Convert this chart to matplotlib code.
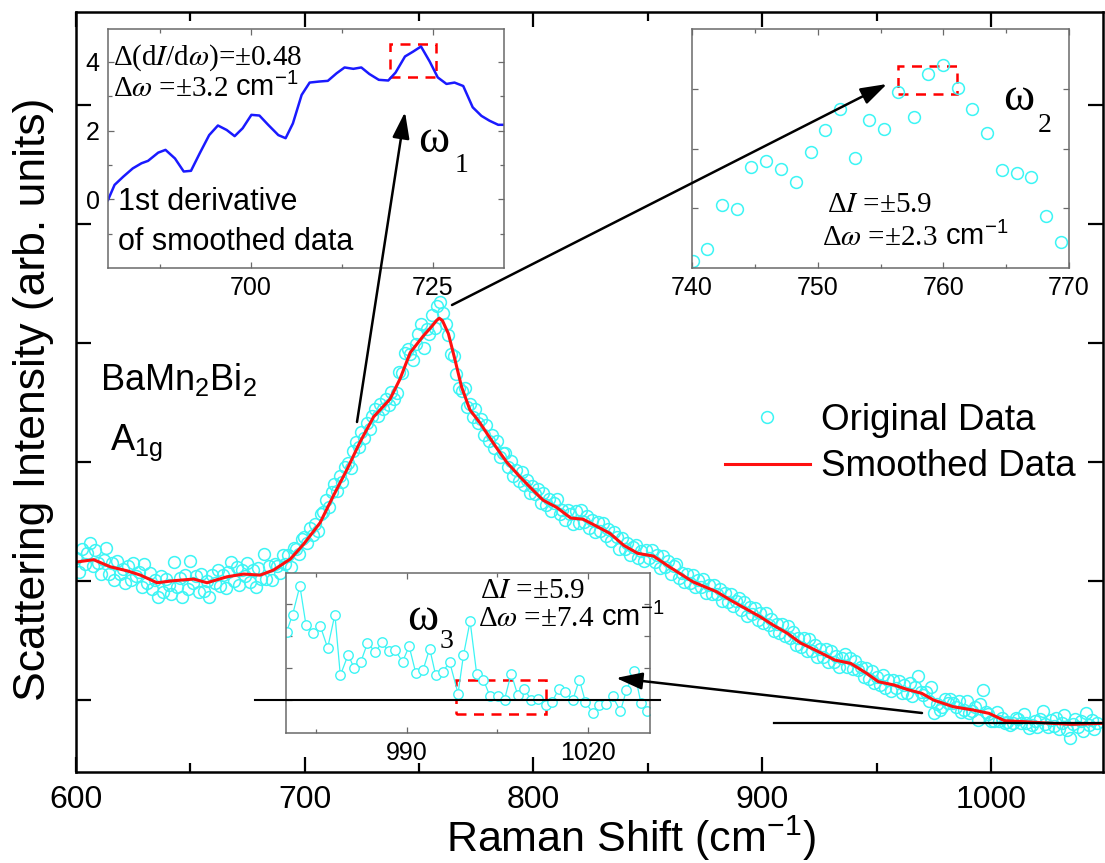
import numpy as np
import matplotlib.pyplot as plt
from matplotlib.patches import Rectangle, FancyArrowPatch
from matplotlib.lines import Line2D
from matplotlib.ticker import MultipleLocator, FixedLocator

plt.rcParams['font.family'] = ['Liberation Sans', 'DejaVu Sans']
plt.rcParams['mathtext.fontset'] = 'custom'
plt.rcParams['mathtext.rm'] = 'Liberation Sans'
plt.rcParams['mathtext.it'] = 'Liberation Sans:italic'
plt.rcParams['mathtext.bf'] = 'Liberation Sans:bold'

# ---- main spectrum (original data) ----
intensity = [
    219, 208, 227, 214, 224, 232, 213, 226, 215, 206, 218, 228, 206, 215, 201, 217, 206, 210, 198, 213,
    201, 215, 204, 208, 195, 214, 198, 207, 193, 201, 187, 204, 191, 202, 197, 189, 216, 195, 203, 187,
    205, 193,
    217, 198, 204, 191, 206, 192, 200, 187, 205, 198, 209, 196, 205, 194, 208, 216, 200, 212, 197, 209,
    204, 215, 199, 209, 195, 211, 202, 223, 202, 213, 201, 214, 213, 207, 222, 214, 222, 212, 228, 227,
    223, 235,
    237, 232, 245, 239, 248, 242, 256, 258, 268, 262, 275, 282, 276, 288, 283, 296, 299, 295, 309, 317,
    313, 325, 320, 333, 328, 339, 345, 339, 349, 345, 353, 348, 359,
    353, 358, 376, 375, 392, 395, 391, 386, 399, 408, 416, 396, 412, 408, 424, 413, 431, 435, 425, 416,
    407, 391, 389, 374, 362,
    360, 362, 346, 349, 338, 345, 333, 336, 323, 331, 318, 323, 312, 318, 304, 308, 308, 296, 301, 288,
    293, 284, 292, 281, 285, 274, 280, 273, 277, 266, 274, 264, 269, 259, 266, 269, 256, 260, 251, 260,
    256, 248, 259, 249, 260, 250, 255, 245, 251, 241, 250, 242, 249, 238, 244, 234, 241, 237, 227, 236,
    227, 232, 222, 229, 230, 219, 225,
    217, 226, 219, 226, 216, 222, 211, 221, 212, 217, 206, 213, 214, 203, 207, 199, 206, 198, 205, 195,
    201, 195, 202, 190, 197, 189, 197, 189, 193, 183, 190, 182, 189, 179, 183, 186, 176, 182, 171, 178,
    172, 177, 167, 173, 165, 173, 163, 168, 158, 164,
    156, 164, 154, 162, 152, 157, 146, 152, 145, 152, 141, 151, 141, 146, 136, 143, 136, 143, 132, 141,
    132, 137, 128, 135, 139, 128, 135, 126, 133, 125, 128, 119, 127, 118, 124, 114, 119, 113, 121, 110,
    117, 108, 117, 110, 116, 106, 113, 106, 114, 103,
    110.6, 120.5, 107.1, 104.2, 106.5, 99.0, 110.6, 89.5, 96.7, 91.9, 94.2, 100.7, 97.6, 100.9, 97.9,
    94.2, 99.6, 90.3, 91.3, 98.8, 89.5, 90.7, 94.2, 83.2, 96.5, 108.3, 89.8, 88.0, 82.2, 82.2, 90.1,
    82.6, 84.9, 80.9, 81.4, 79.1, 80.3, 84.9, 83.7, 80.9, 88.0, 80.3, 76.4, 79.1, 82.2, 77.1, 84.3,
    90.9, 79.9, 77.1,
    83, 78, 85, 76, 81, 87, 75, 68, 80, 84, 77, 82, 74, 89, 79, 83, 76, 81,
]
shift = np.linspace(600.2, 1046.4, len(intensity))

# smoothed curve (red line)
smooth_shift = [600.2, 607.7, 615.0, 622.4, 628.2, 635.4, 642.7, 651.4, 657.3, 666.0, 673.3, 680.5,
                686.3, 693.7, 699.5, 706.7, 712.6, 718.4, 724.2, 730.1, 737.3, 741.6, 746.1, 751.8,
                755.5, 757.6, 758.8, 760.2, 762.8, 765.7, 768.6, 772.2, 776.6, 783.5, 788.3, 793.9,
                799.0, 804.2, 810.1, 816.3, 821.7, 826.7, 833.5, 839.5, 845.6, 852.5, 859.4, 869.7,
                880.1, 887.0, 893.9, 899.1, 904.8, 911.1, 916.7, 923.2, 931.8, 938.7, 945.7, 950.8,
                957.7, 963.2, 969.8, 974.9, 983.5, 992.2, 999.2, 1006.0, 1014.6, 1026.8, 1035.4, 1049.0]
smooth_int = [216, 218, 212, 208.6, 205, 198.6, 200.3, 201.7, 198.6, 203.6, 205.9, 205,
              209.2, 218.5, 231, 249, 272, 293.5, 317, 338, 353, 369.7, 392, 406,
              414, 419, 421, 419, 408, 386, 363, 344, 333, 313, 300, 288,
              278, 268, 262, 253, 252, 247, 240, 230, 223.3, 221, 212, 199.4,
              191, 183, 175.6, 170, 163, 156, 148, 142, 133.6, 130.8, 122.4, 115.4,
              112.6, 109, 105.6, 100, 94.4, 91.6, 88.8, 82.6, 81.8, 80.4, 79.6, 80.4]

# inset 1: first derivative of smoothed data
deriv_shift = [680.4, 681.3, 682.5, 683.8, 685.0, 685.9, 687.3, 688.3, 689.6, 690.8,
               691.8, 693.0, 694.3, 695.5, 696.7, 697.8, 698.9, 700.1, 701.2, 702.4,
               703.8, 704.8, 705.8, 707.0, 708.1, 709.4, 710.6, 711.8, 712.9, 714.1,
               715.2, 716.3, 717.6, 718.9, 719.9, 721.2, 722.3, 723.4, 724.6, 725.7,
               726.9, 728.0, 729.2, 730.5, 731.7, 732.8, 734.0, 734.7]
deriv_val = [-0.02, 0.42, 0.66, 0.90, 1.05, 1.12, 1.36, 1.44, 1.19, 0.81,
             0.83, 1.34, 1.87, 2.15, 2.02, 1.84, 2.07, 2.46, 2.44, 2.17,
             1.87, 1.78, 2.21, 3.04, 3.40, 3.43, 3.45, 3.67, 3.84, 3.80,
             3.84, 3.65, 3.48, 3.46, 3.69, 4.16, 4.30, 4.45, 4.01, 3.55,
             3.36, 3.40, 3.30, 2.68, 2.43, 2.29, 2.17, 2.17]

# inset 2: peak region
peak_shift = [740.1, 741.2, 742.4, 743.6, 744.7, 745.9, 747.1, 748.3, 749.5, 750.6, 751.8, 753.0, 754.1,
              755.3, 756.4, 757.7, 758.8, 760.0, 761.2, 762.3, 763.5, 764.7, 765.9, 767.0, 768.2, 769.4]
peak_int = [353.1, 357.8, 376.4, 374.7, 392.1, 394.8, 391.4, 386.1, 398.7, 407.7, 416.4, 395.9, 411.9,
            408.3, 423.8, 413.3, 431.2, 434.8, 425.4, 416.4, 406.6, 391.0, 389.6, 388.2, 371.9, 361.0]

# inset 3: tail region
tail_shift = [970.1, 971.1, 972.3, 973.3, 974.5, 975.7, 976.9, 978.1, 979.0, 980.3,
              981.3, 982.4, 983.5, 984.8, 985.9, 987.0, 988.1, 989.3, 990.4, 991.5,
              992.7, 993.8, 994.8, 996.0, 997.1, 998.5, 999.4, 1000.5, 1001.6, 1002.7,
              1003.8, 1005.1, 1006.2, 1007.3, 1008.4, 1009.5, 1010.6, 1011.8, 1013.0, 1014.1,
              1015.2, 1016.3, 1017.5, 1018.6, 1019.6, 1020.8, 1021.9, 1023.0, 1024.1, 1025.4,
              1026.4, 1027.7, 1028.8, 1029.8]
tail_int = [104.6, 110.6, 120.5, 107.1, 104.2, 106.5, 99.0, 110.6, 89.5, 96.7,
            91.9, 94.2, 100.7, 97.6, 100.9, 97.9, 98.2, 94.2, 99.6, 90.3,
            91.3, 98.8, 89.5, 90.7, 94.2, 83.2, 96.5, 108.3, 89.8, 88.0,
            82.2, 82.2, 81.1, 90.1, 82.6, 84.9, 80.9, 81.4, 79.1, 80.3,
            84.9, 83.7, 80.9, 88.0, 80.3, 76.4, 79.1, 79.4, 82.2, 77.1,
            84.3, 90.9, 79.9, 77.1]

W, H = 1105, 863
CYAN = '#3cf5f5'


def fx(px):
    return px / W


def fy(py):
    return 1 - py / H


def box(left, top, right, bottom):
    return [fx(left), fy(bottom), (right - left) / W, (bottom - top) / H]


def style_inset(a):
    for s in a.spines.values():
        s.set_color('#6a6a6a')
        s.set_linewidth(1.1)
    a.tick_params(which='both', direction='in', top=True, right=True, color='#6a6a6a',
                  labelsize=18, width=0.9, pad=6)
    a.tick_params(which='major', length=4.5)
    a.tick_params(which='minor', length=3)
    a.set_facecolor('white')


fig = plt.figure(figsize=(W / 100, H / 100), dpi=100)
renderer = fig.canvas.get_renderer()

# main axes
ax = fig.add_axes(box(76, 12, 1103, 772))
ax.plot(shift, intensity, 'o', ms=8.5, mfc='none', mec=CYAN, mew=1.1, label='Original Data')
ax.plot(smooth_shift, smooth_int, color='#ff1010', lw=2.2, label='Smoothed Data')
ax.plot([905, 1049], [80.7, 80.7], color='k', lw=1.6)
ax.set_xlim(600, 1049)
ax.set_ylim(39.5, 678.4)
ax.set_xticks([600, 700, 800, 900, 1000])
ax.xaxis.set_minor_locator(MultipleLocator(50))
ax.set_yticks([100, 200, 300, 400, 500, 600])
ax.tick_params(which='both', direction='in', top=True, right=True, labelleft=False, width=1.6)
ax.tick_params(which='major', length=11, labelsize=23, pad=9)
ax.tick_params(which='minor', length=6.5)
for s in ax.spines.values():
    s.set_linewidth(1.8)
ax.set_xlabel('Raman Shift (cm$^{-1}$)', fontsize=31)
ax.set_ylabel('Scattering Intensity (arb. units)', fontsize=32)
ax.xaxis.set_label_coords(0.54, -0.055)
ax.yaxis.set_label_coords(-0.021, 0.49)
ax.legend(loc='upper left', bbox_to_anchor=(fx(725), fy(403)), bbox_transform=fig.transFigure,
          frameon=False, fontsize=26.5, handlelength=2.3, handletextpad=0.32, labelspacing=0.31,
          borderpad=0, borderaxespad=0, numpoints=1)

# inset 1
ins1 = fig.add_axes(box(108, 29, 504, 268))
ins1.plot(deriv_shift, deriv_val, color='#1a1aff', lw=1.8)
ins1.set_xlim(680.4, 734.8)
ins1.set_ylim(-2, 4.96)
ins1.set_xticks([700, 725])
ins1.xaxis.set_minor_locator(FixedLocator([687.5, 712.5]))
ins1.set_yticks([0, 2, 4])
ins1.yaxis.set_minor_locator(FixedLocator([-1, 1, 3]))
style_inset(ins1)
ins1.add_patch(Rectangle((719.1, 3.55), 6.4, 0.96, fill=False, ec='red', lw=1.8, ls=(0, (4, 3))))

# inset 2
ins2 = fig.add_axes(box(692, 29, 1069, 268))
ins2.plot(peak_shift, peak_int, 'o', ms=8.5, mfc='none', mec=CYAN, mew=1.1)
ins2.set_xlim(740, 770)
ins2.set_ylim(350, 450)
ins2.set_xticks([740, 750, 760, 770])
ins2.xaxis.set_minor_locator(MultipleLocator(5))
ins2.set_yticks([375, 400, 425])
style_inset(ins2)
ins2.tick_params(labelleft=False)
ins2.add_patch(Rectangle((756.4, 422.8), 4.7, 11.8, fill=False, ec='red', lw=1.8, ls=(0, (4, 3))))

# inset 3
ins3 = fig.add_axes(box(286, 573, 650, 733))
ins3.plot(tail_shift, tail_int, '-o', color=CYAN, lw=0.9, ms=6.8, mfc='white', mec=CYAN, mew=1.0)
ins3.set_xlim(970, 1030.3)
ins3.set_ylim(69.5, 125)
ins3.set_xticks([990, 1020])
ins3.xaxis.set_minor_locator(FixedLocator([975, 1005]))
ins3.set_yticks([80.8, 91.9, 103.0, 114.1])
style_inset(ins3)
ins3.tick_params(labelleft=False)
ins3.add_patch(Rectangle((998.1, 76.2), 14.9, 11.8, fill=False, ec='red', lw=1.8, ls=(0, (4, 3))))

fig.add_artist(Line2D([fx(255), fx(660)], [fy(699.5), fy(699.5)], transform=fig.transFigure,
                      color='k', lw=1.5, zorder=5))

# arrows
for (x0, y0, x1, y1) in [(357, 422, 405, 112), (452, 305, 887, 84), (922, 713, 616, 678)]:
    fig.add_artist(FancyArrowPatch((fx(x0), fy(y0)), (fx(x1), fy(y1)), transform=fig.transFigure,
                                   arrowstyle='-|>,head_length=0.4,head_width=0.13',
                                   mutation_scale=40, lw=1.8, color='k',
                                   shrinkA=0, shrinkB=0, zorder=6))

# text annotations
serif = 'Liberation Serif'


def delta_text(px, py, s, unit=False):
    t = fig.text(fx(px), fy(py), s, family=serif, fontsize=21, math_fontfamily='stix',
                 va='baseline')
    if unit:
        bb = t.get_window_extent(renderer)
        fig.text((bb.x1 + 7) / W, fy(py), 'cm$^{-1}$', fontsize=21, va='baseline')


delta_text(113, 65, r'Δ(d$I$/d$\omega$)=±0.48')
delta_text(113, 96, r'Δ$\omega$ =±3.2', unit=True)
fig.text(fx(118), fy(210), '1st derivative', fontsize=22, va='baseline')
fig.text(fx(118), fy(250), 'of smoothed data', fontsize=22, va='baseline')

delta_text(827, 212, r'Δ$I$ =±5.9')
delta_text(822, 245, r'Δ$\omega$ =±2.3', unit=True)

delta_text(480, 598, r'Δ$I$ =±5.9')
delta_text(478, 626, r'Δ$\omega$ =±7.4', unit=True)

for (wx, wy, sx, sy, sub) in [(418, 152, 455, 172, '1'), (1003, 110, 1038, 132, '2'),
                              (407, 630, 440, 648, '3')]:
    fig.text(fx(wx), fy(wy), 'ω', family=serif, fontsize=34, va='baseline')
    fig.text(fx(sx), fy(sy), sub, family=serif, fontsize=20, va='baseline')

fig.text(fx(100), fy(390), 'BaMn$_2$Bi$_2$', fontsize=26, va='baseline')
fig.text(fx(110), fy(450), r'A$_{\mathrm{1g}}$', fontsize=26, va='baseline')

fig.savefig('out.png', dpi=100)
